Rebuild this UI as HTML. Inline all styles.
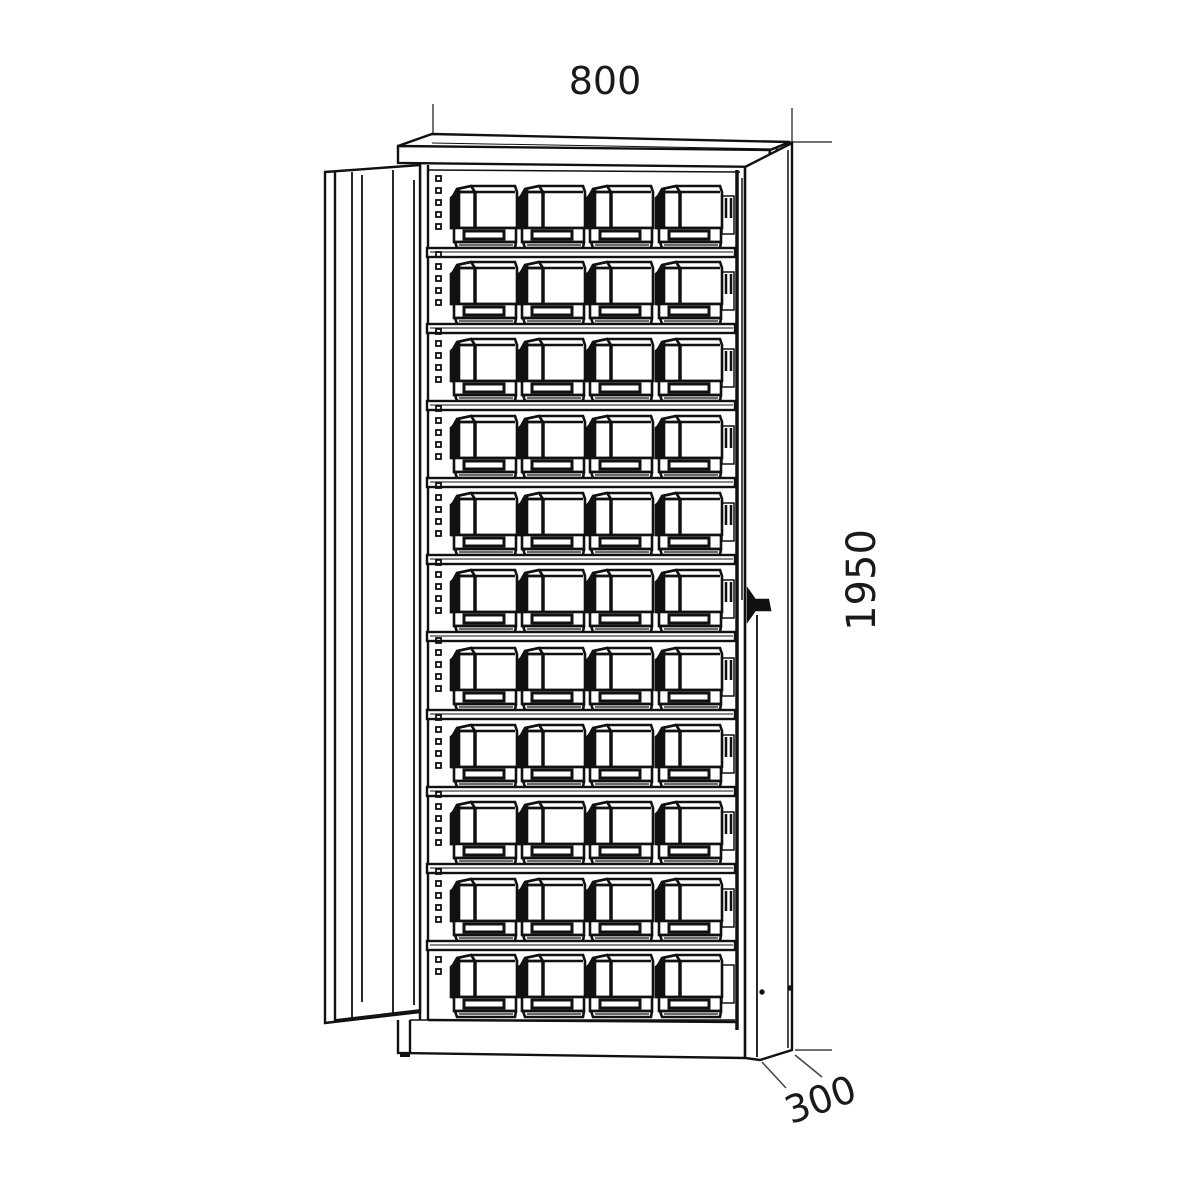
<!DOCTYPE html>
<html><head><meta charset="utf-8"><style>
html,body{margin:0;padding:0;background:#fff;}
svg{display:block}
text{font-family:"DejaVu Sans","Liberation Sans",sans-serif;fill:#1a1a1a}
</style></head><body>
<svg width="1200" height="1200" viewBox="0 0 1200 1200" xmlns="http://www.w3.org/2000/svg">
<defs>
<g id="bin" fill="none" stroke="#111" stroke-width="2.6">
  <path d="M3,44 L3,14 L8,5 L22,2 L66,2 L68,8 L68,44 Z" fill="#fff"/>
  <path d="M2,14 L10,7 L10,44 L2,44 Z" fill="#111"/>
  <path d="M8,5 L22,2 L26,8 L9,8"/>
  <line x1="26" y1="8" x2="26" y2="44" stroke-width="3.5"/>
  <line x1="9" y1="8" x2="66" y2="8"/>
  <rect x="5" y="44" width="62" height="14" fill="#fff"/>
  <rect x="15" y="47" width="40" height="8" stroke-width="3"/>
  <line x1="5" y1="58" x2="67" y2="58"/>
  <path d="M6,58 L8,64 L66,64 L67,58"/>
  <line x1="10" y1="61" x2="64" y2="61" stroke-width="1.2"/>
</g>
<g id="row">
  <use href="#bin" x="449" y="0"/>
  <use href="#bin" x="517" y="0"/>
  <use href="#bin" x="585" y="0"/>
  <use href="#bin" x="654" y="0"/>
  <rect x="722" y="12" width="12" height="38" fill="none" stroke="#111" stroke-width="1.5"/>
  <line x1="726" y1="14" x2="726" y2="34" stroke="#111" stroke-width="2.5"/>
  <line x1="731" y1="14" x2="731" y2="34" stroke="#111" stroke-width="2.5"/>
  <rect x="436" y="-8" width="5" height="5" fill="none" stroke="#111" stroke-width="1.8"/>
  <rect x="436" y="4" width="5" height="5" fill="none" stroke="#111" stroke-width="1.8"/>
  <rect x="436" y="16" width="5" height="5" fill="none" stroke="#111" stroke-width="1.8"/>
  <rect x="436" y="28" width="5" height="5" fill="none" stroke="#111" stroke-width="1.8"/>
  <rect x="436" y="40" width="5" height="5" fill="none" stroke="#111" stroke-width="1.8"/>
  <rect x="427" y="64" width="308" height="9" fill="#fff" stroke="#111" stroke-width="2.4"/>
  <line x1="430" y1="68" x2="733" y2="68" stroke="#111" stroke-width="1"/>
</g>
</defs>

<g fill="none" stroke="#111" stroke-width="2.4">
  <line x1="433" y1="104" x2="433" y2="134" stroke="#444" stroke-width="1.5"/>
  <line x1="792" y1="108" x2="792" y2="143" stroke="#444" stroke-width="1.5"/>
  <line x1="790" y1="142" x2="832" y2="142" stroke="#444" stroke-width="1.5"/>
  <line x1="795" y1="1050" x2="832" y2="1050" stroke="#444" stroke-width="1.5"/>
  <line x1="762" y1="1062" x2="786" y2="1088" stroke="#444" stroke-width="1.5"/>
  <line x1="795" y1="1055" x2="822" y2="1077" stroke="#444" stroke-width="1.5"/>

  <path d="M398,146 L432,134 L790,142 L770,150" fill="#fff"/>
  <path d="M398,146 L770,150 L768,167 L398,163 Z" fill="#fff"/>
  <line x1="432" y1="143" x2="780" y2="149" stroke-width="1"/>
  <line x1="420" y1="163" x2="420" y2="1020"/>
  <line x1="428" y1="165" x2="428" y2="1020"/>
  <line x1="428" y1="170" x2="740" y2="172" stroke-width="1.5"/>
  <path d="M745,167 L792,143 L792,1050 L760,1060 L745,1058 Z" fill="#fff"/>
  <line x1="737" y1="170" x2="737" y2="1030" stroke-width="3.5"/>
  <line x1="745" y1="167" x2="745" y2="1058"/>
  <line x1="757" y1="615" x2="757" y2="1057" stroke-width="1.8"/>
  <line x1="788" y1="150" x2="788" y2="1048" stroke-width="1.5"/>
  <line x1="742" y1="178" x2="742" y2="600" stroke-width="1.5"/>
  <circle cx="762" cy="992" r="1.5" fill="#111"/>
  <circle cx="790" cy="988" r="1.5" fill="#111"/>
  <path d="M748,590 L755,600 L768,600 L770,610 L755,610 L748,620 Z" fill="#111"/>

  <path d="M398,1020 L398,1053 L745,1058" fill="#fff"/>
  <line x1="410" y1="1020" x2="410" y2="1053"/>
  <line x1="410" y1="1020" x2="735" y2="1020" stroke-width="1.5"/>
  <line x1="400" y1="1055" x2="410" y2="1055" stroke-width="4"/>

  <path d="M325,172 L420,165 L420,1012 L325,1023 Z" fill="#fff"/>
  <line x1="335" y1="172" x2="335" y2="1022"/>
  <line x1="352" y1="172" x2="352" y2="1018" stroke-width="1.8"/>
  <line x1="362" y1="175" x2="362" y2="1002" stroke-width="1.8"/>
  <line x1="393" y1="170" x2="393" y2="1015" stroke-width="1.8"/>
  <line x1="414" y1="180" x2="414" y2="1005" stroke-width="1.8"/>
  <line x1="335" y1="1020" x2="420" y2="1010" stroke-width="1.8"/>
</g>

<use href="#row" y="184"/>
<use href="#row" y="260"/>
<use href="#row" y="337"/>
<use href="#row" y="414"/>
<use href="#row" y="491"/>
<use href="#row" y="568"/>
<use href="#row" y="646"/>
<use href="#row" y="723"/>
<use href="#row" y="800"/>
<use href="#row" y="877"/>
<g transform="translate(0,953)">
  <use href="#bin" x="449" y="0"/>
  <use href="#bin" x="517" y="0"/>
  <use href="#bin" x="585" y="0"/>
  <use href="#bin" x="654" y="0"/>
  <rect x="722" y="12" width="12" height="38" fill="none" stroke="#111" stroke-width="1.5"/>
  <rect x="436" y="4" width="5" height="5" fill="none" stroke="#111" stroke-width="1.8"/>
  <rect x="436" y="16" width="5" height="5" fill="none" stroke="#111" stroke-width="1.8"/>
</g>
<line x1="428" y1="1020" x2="737" y2="1022" stroke="#111" stroke-width="2.4"/>

<text x="605" y="94" font-size="38" text-anchor="middle">800</text>
<text transform="translate(875,580) rotate(-90)" font-size="40" text-anchor="middle">1950</text>
<text transform="translate(825,1112) rotate(-20)" font-size="38" text-anchor="middle">300</text>
</svg>
</body></html>
